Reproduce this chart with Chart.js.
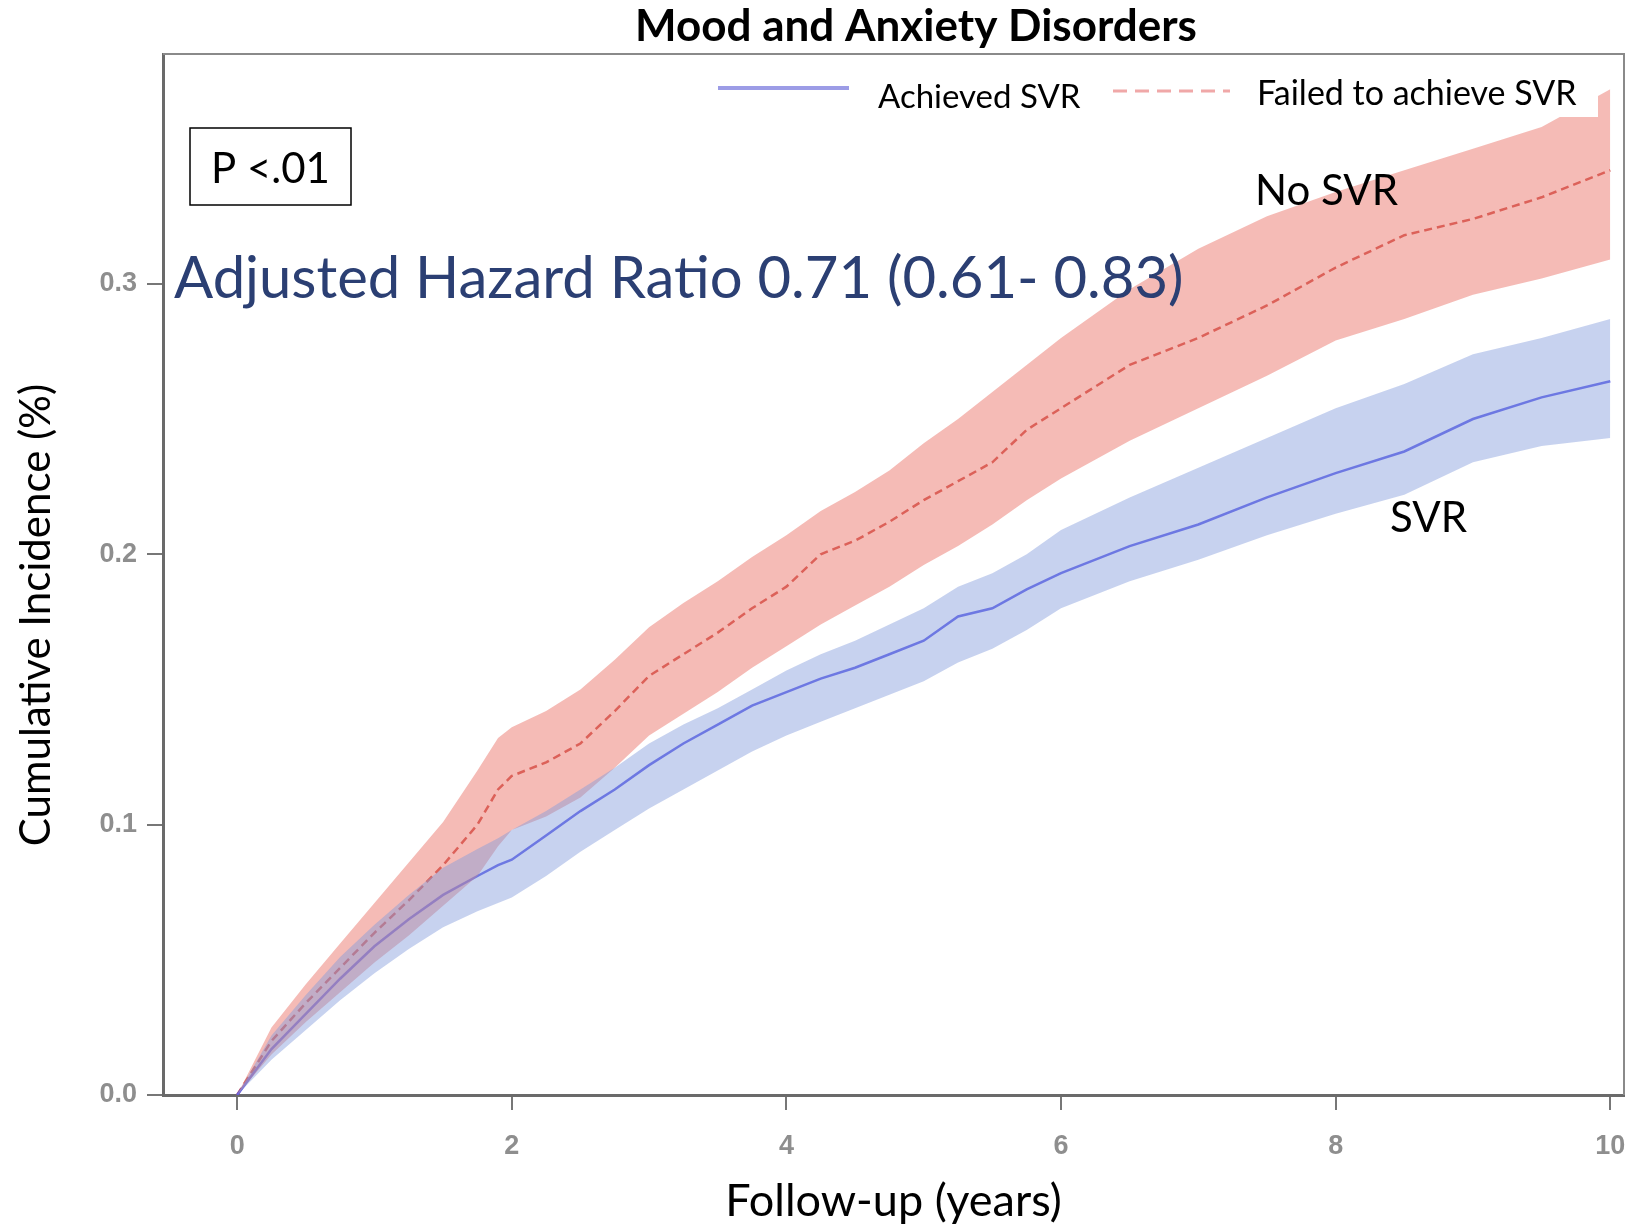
<!DOCTYPE html>
<html lang="en">
<head>
  <meta charset="UTF-8">
  <title>Mood and Anxiety Disorders</title>
  <script src="https://cdn.jsdelivr.net/npm/chart.js"></script>
  <style>
    body { margin: 0; background: #fff; }
    canvas { display: block; }
  </style>
</head>
<body>
  <canvas id="graphic" width="1627" height="1228"></canvas>
  <script>
    // follow-up time (years)
    const years = [0, 0.25, 0.5, 0.75, 1, 1.25, 1.5, 1.75, 1.9, 2, 2.25, 2.5, 2.75, 3, 3.25, 3.5, 3.75, 4,
      4.25, 4.5, 4.75, 5, 5.25, 5.5, 5.75, 6, 6.5, 7, 7.5, 8, 8.5, 9, 9.5, 10];

    // Achieved SVR: estimate and confidence band
    const svrLine = [0, 0.017, 0.03, 0.043, 0.055, 0.065, 0.074, 0.081, 0.085, 0.087, 0.096, 0.105, 0.113, 0.122,
      0.13, 0.137, 0.144, 0.149, 0.154, 0.158, 0.163, 0.168, 0.177, 0.18, 0.187, 0.193, 0.203, 0.211, 0.221, 0.23,
      0.238, 0.25, 0.258, 0.264];
    const svrHigh = [0, 0.022, 0.037, 0.051, 0.063, 0.074, 0.084, 0.091, 0.095, 0.098, 0.105, 0.113, 0.121, 0.13,
      0.137, 0.143, 0.15, 0.157, 0.163, 0.168, 0.174, 0.18, 0.188, 0.193, 0.2, 0.209, 0.221, 0.232, 0.243, 0.254,
      0.263, 0.274, 0.28, 0.287];
    const svrLow = [0, 0.013, 0.024, 0.035, 0.045, 0.054, 0.062, 0.068, 0.071, 0.073, 0.081, 0.09, 0.098, 0.106,
      0.113, 0.12, 0.127, 0.133, 0.138, 0.143, 0.148, 0.153, 0.16, 0.165, 0.172, 0.18, 0.19, 0.198, 0.207, 0.215,
      0.222, 0.234, 0.24, 0.243];

    // Failed to achieve SVR: estimate and confidence band
    const noSvrLine = [0, 0.02, 0.034, 0.047, 0.06, 0.072, 0.085, 0.1, 0.113, 0.118, 0.123, 0.13, 0.142, 0.155,
      0.163, 0.171, 0.18, 0.188, 0.2, 0.205, 0.212, 0.22, 0.227, 0.234, 0.246, 0.254, 0.27, 0.28, 0.292, 0.306,
      0.318, 0.324, 0.332, 0.342];
    const noSvrHigh = [0, 0.025, 0.041, 0.056, 0.071, 0.086, 0.101, 0.12, 0.132, 0.136, 0.142, 0.15, 0.161, 0.173,
      0.182, 0.19, 0.199, 0.207, 0.216, 0.223, 0.231, 0.241, 0.25, 0.26, 0.27, 0.28, 0.298, 0.313, 0.325, 0.334,
      0.342, 0.35, 0.358, 0.372];
    const noSvrLow = [0, 0.015, 0.027, 0.038, 0.049, 0.059, 0.07, 0.081, 0.092, 0.098, 0.103, 0.11, 0.121, 0.133,
      0.141, 0.149, 0.158, 0.166, 0.174, 0.181, 0.188, 0.196, 0.203, 0.211, 0.22, 0.228, 0.242, 0.254, 0.266,
      0.279, 0.287, 0.296, 0.302, 0.309];

    const xTicks = [0, 2, 4, 6, 8, 10];
    const yTicks = [0, 0.1, 0.2, 0.3];

    const pts = arr => arr.map((v, i) => ({ x: years[i], y: v }));

    // title, legend and text boxes drawn on top of the chart
    const annotations = {
      id: "annotations",
      afterDraw(chart) {
        const ctx = chart.ctx;
        const a = chart.chartArea;
        ctx.save();
        // frame top / right
        ctx.strokeStyle = "#8a8a8a";
        ctx.lineWidth = 2;
        ctx.beginPath();
        ctx.moveTo(a.left, a.top);
        ctx.lineTo(a.right, a.top);
        ctx.lineTo(a.right, a.bottom);
        ctx.stroke();

        ctx.fillStyle = "#000";
        ctx.textBaseline = "middle";
        ctx.textAlign = "center";
        ctx.font = "bold 44px Lato";
        ctx.fillText("Mood and Anxiety Disorders", 916, 27);

        // y axis title
        ctx.save();
        ctx.translate(36, 615);
        ctx.rotate(-Math.PI / 2);
        ctx.font = "42px Lato";
        ctx.fillText("Cumulative Incidence (%)", 0, 0);
        ctx.restore();

        // legend
        ctx.textAlign = "left";
        ctx.textBaseline = "alphabetic";
        ctx.strokeStyle = "#9c9ce6";
        ctx.lineWidth = 4;
        ctx.beginPath();
        ctx.moveTo(718, 88);
        ctx.lineTo(849, 88);
        ctx.stroke();
        ctx.font = "33px Lato";
        ctx.fillText("Achieved SVR", 878, 108);
        ctx.strokeStyle = "#f0a8a8";
        ctx.lineWidth = 3;
        ctx.setLineDash([14, 8]);
        ctx.beginPath();
        ctx.moveTo(1113, 91);
        ctx.lineTo(1230, 91);
        ctx.stroke();
        ctx.setLineDash([]);
        ctx.fillStyle = "#fff";
        ctx.fillRect(1238, 70, 360, 47);
        ctx.fillStyle = "#000";
        ctx.font = "34px Lato";
        ctx.fillText("Failed to achieve SVR", 1257, 105);

        // p-value box
        ctx.fillStyle = "#fff";
        ctx.fillRect(190, 128, 161, 77);
        ctx.strokeStyle = "#000";
        ctx.lineWidth = 1.5;
        ctx.strokeRect(190, 128, 161, 77);
        ctx.fillStyle = "#000";
        ctx.font = "42px Lato";
        ctx.fillText("P <.01", 211, 183);

        ctx.fillStyle = "#2b3f73";
        ctx.font = "58px Lato";
        ctx.fillText("Adjusted Hazard Ratio 0.71 (0.61- 0.83)", 174, 298);

        // curve labels
        ctx.fillStyle = "#000";
        ctx.font = "42px Lato";
        ctx.fillText("No SVR", 1255, 205);
        ctx.fillText("SVR", 1390, 532);
        ctx.restore();
      }
    };

    document.addEventListener("DOMContentLoaded", () => {
      const lienzo = document.getElementById("graphic");
      new Chart(lienzo, {
        type: "line",
        data: {
          datasets: [
            { data: pts(svrLow), borderWidth: 0, pointRadius: 0, fill: false },
            { data: pts(svrHigh), borderWidth: 0, pointRadius: 0, fill: "-1",
              backgroundColor: "rgba(130,155,220,0.45)" },
            { data: pts(noSvrLow), borderWidth: 0, pointRadius: 0, fill: false },
            { data: pts(noSvrHigh), borderWidth: 0, pointRadius: 0, fill: "-1",
              backgroundColor: "rgba(236,120,110,0.5)" },
            { label: "Achieved SVR", data: pts(svrLine), borderColor: "#5b5be8", borderWidth: 2.5,
              pointRadius: 0, fill: false },
            { label: "Failed to achieve SVR", data: pts(noSvrLine), borderColor: "#cc4a44", borderWidth: 2.5,
              borderDash: [8, 5], pointRadius: 0, fill: false }
          ]
        },
        options: {
          responsive: false,
          animation: false,
          layout: { padding: { top: 54, right: 3, left: 0, bottom: 0 } },
          plugins: { legend: { display: false }, tooltip: { enabled: false } },
          scales: {
            x: {
              type: "linear",
              min: -0.54,
              max: 10.1,
              afterBuildTicks: s => { s.ticks = xTicks.map(v => ({ value: v })); },
              afterFit: s => { s.height = 133; s.paddingLeft = 0; s.paddingRight = 0; },
              grid: { drawOnChartArea: false, tickLength: 15, color: "#777", lineWidth: 2 },
              border: { color: "#6a6a6a", width: 3 },
              ticks: { color: "#8e8e8e", font: { family: "Liberation Sans", size: 27, weight: "bold" },
                padding: 20, maxRotation: 0 },
              title: { display: true, text: "Follow-up (years)", color: "#000",
                font: { family: "Lato", size: 45 }, padding: 0 }
            },
            y: {
              min: 0,
              max: 0.385,
              afterBuildTicks: s => { s.ticks = yTicks.map(v => ({ value: v })); },
              afterFit: s => { s.width = 163; s.paddingTop = 0; s.paddingBottom = 0; },
              grid: { drawOnChartArea: false, tickLength: 16, color: "#777", lineWidth: 2 },
              border: { color: "#6a6a6a", width: 3 },
              ticks: { color: "#8e8e8e", font: { family: "Liberation Sans", size: 27, weight: "bold" },
                padding: 10, callback: v => v.toFixed(1) }
            }
          }
        },
        plugins: [annotations]
      });
    });
  </script>
</body>
</html>
